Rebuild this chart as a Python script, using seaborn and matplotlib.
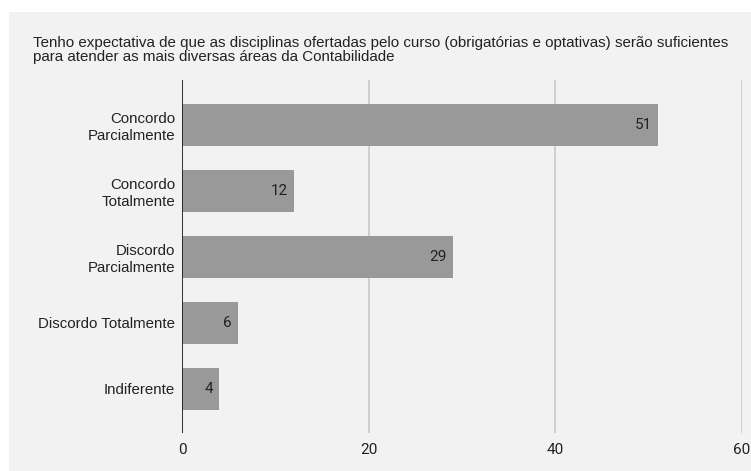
import matplotlib
matplotlib.use("Agg")
import matplotlib.pyplot as plt
import seaborn as sns
import pandas as pd
from matplotlib.patches import Rectangle

categories = ["Concordo\nParcialmente", "Concordo\nTotalmente", "Discordo\nParcialmente",
              "Discordo Totalmente", "Indiferente"]
values = [51, 12, 29, 6, 4]
x_ticks = [0, 20, 40, 60]
title = ("Tenho expectativa de que as disciplinas ofertadas pelo curso (obrigatórias e optativas) serão suficientes\n"
         "para atender as mais diversas áreas da Contabilidade")

df = pd.DataFrame({"categoria": categories, "valor": values})

sns.set_theme(style="white")
plt.rcParams["font.family"] = ["Liberation Sans", "DejaVu Sans"]

W, H = 751, 471
fig = plt.figure(figsize=(W / 100, H / 100), dpi=100, facecolor="white")
# light panel behind the chart
fig.patches.append(Rectangle((9 / W, 0), 1 - 9 / W, 1 - 12 / H, transform=fig.transFigure,
                             facecolor="#f2f2f2", edgecolor="none", zorder=-10))

ax = fig.add_axes([182 / W, 1 - 433 / H, (742 - 182) / W, (433 - 80) / H])
ax.set_facecolor("none")
ax.set_zorder(1)

sns.barplot(data=df, x="valor", y="categoria", orient="h", color="#999999",
            saturation=1, width=0.64, linewidth=0, ax=ax, zorder=3)

ax.set_xlim(0, 60)
ax.set_ylim(4.67, -0.68)
ax.set_xticks(x_ticks)
ax.set_xticklabels([str(t) for t in x_ticks], fontsize=11, color="#222222",
                   family=["Roboto", "DejaVu Sans"])
ax.tick_params(axis="both", length=0)
ax.tick_params(axis="x", pad=7)
ax.tick_params(axis="y", pad=5)
for lbl in ax.get_yticklabels():
    lbl.set_fontsize(10.8)
    lbl.set_color("#222222")
    lbl.set_multialignment("right")
ax.set_xlabel("")
ax.set_ylabel("")
for s in ax.spines.values():
    s.set_visible(False)

for t in x_ticks[1:]:
    ax.axvline(t, color="#cccccc", lw=1.3, zorder=1)
ax.axvline(0, color="#222222", lw=1.3, zorder=4)

for bar, v in zip(ax.patches, values):
    ax.text(bar.get_width() - 0.65, bar.get_y() + bar.get_height() / 2, str(v),
            ha="right", va="center", fontsize=11, color="#222222", zorder=5,
            family=["Roboto", "DejaVu Sans"])

fig.text(33 / W, 1 - 50 / H, title, ha="left", va="center", fontsize=10.9,
         color="#222222", linespacing=0.95)

fig.savefig("out.png", dpi=100, facecolor="white")
